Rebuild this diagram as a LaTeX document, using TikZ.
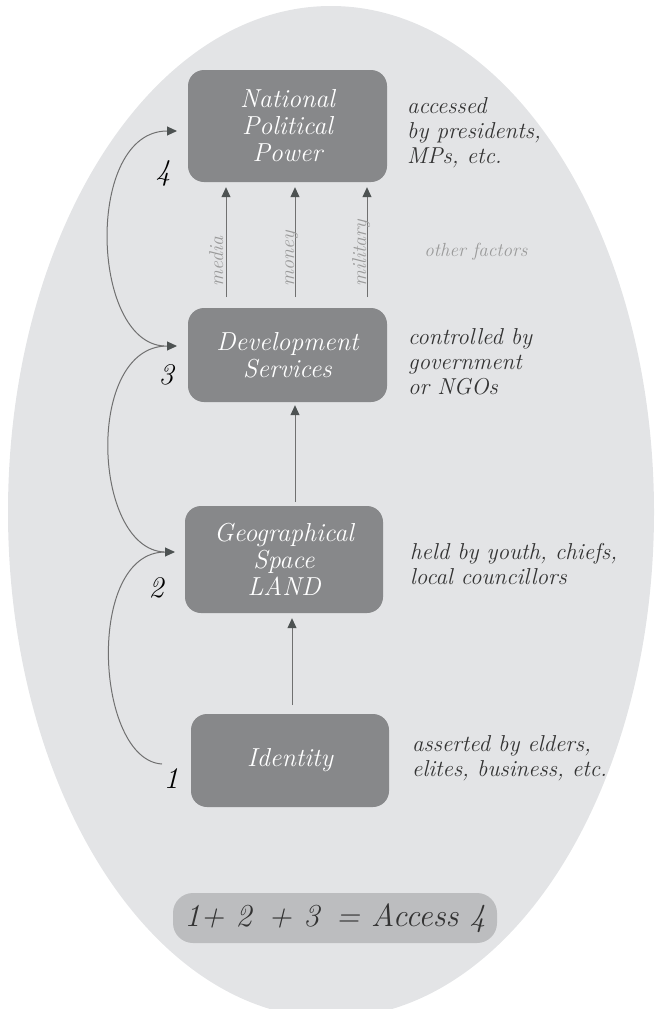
\documentclass[tikz,border=0pt]{standalone}
\usepackage{fontspec}
\usetikzlibrary{arrows.meta}
\definecolor{ellfill}{HTML}{E3E4E6}
\definecolor{boxfill}{HTML}{87888A}
\definecolor{sumfill}{HTML}{BCBDBF}
\definecolor{darktext}{HTML}{333333}
\definecolor{graytext}{HTML}{9A9A9A}
\definecolor{linec}{HTML}{707070}
\definecolor{tipc}{HTML}{4D5252}
\begin{document}
\begin{tikzpicture}[x=1pt,y=-1pt,
  stage/.style={draw=none, fill=boxfill, rounded corners=16pt, text=white,
    font=\fontsize{26}{27}\selectfont\itshape, align=center, inner sep=0pt},
  note/.style={text=darktext, font=\fontsize{23}{25}\selectfont\itshape,
    align=left, anchor=west, inner sep=0pt},
  num/.style={text=black, font=\fontsize{30}{30}\selectfont\itshape, inner sep=0pt},
  flow/.style={draw=linec, line width=1pt,
    -{Triangle[length=10pt,width=9pt,color=tipc,fill=tipc]}},
  factor/.style={text=graytext, font=\fontsize{20}{20}\selectfont\itshape,
    rotate=90, anchor=base west, inner sep=0pt},
]
\useasboundingbox (0,0) rectangle (656,1009);
\clip (0,0) rectangle (656,1009);
\fill[ellfill] (331,512) ellipse [x radius=323pt, y radius=506pt];

% stages
\node[stage, minimum width=199pt, minimum height=112pt] (p4) at (287.5,126) {National\\Political\\Power};
\node[stage, minimum width=199pt, minimum height=94pt] (p3) at (287.5,355) {Development\\Services};
\node[stage, minimum width=198pt, minimum height=107pt] (p2) at (284,559.5) {Geographical\\Space\\LAND};
\node[stage, minimum width=198pt, minimum height=93pt] (p1) at (290,760.5) {Identity};

% notes
\node[note] (n4) at (407,133) {accessed\\by presidents,\\MPs, etc.};
\node[note] (n3) at (408,362) {controlled by\\government\\or NGOs};
\node[note] (n2) at (410,564.5) {held by youth, chiefs,\\local councillors};
\node[note] (n1) at (412,758.5) {asserted by elders,\\elites, business, etc.};

% numbers
\node[num] (d4) at (163,173) {4};
\node[num] (d3) at (166,375) {3};
\node[num] (d2) at (156,588) {2};
\node[num] (d1) at (171,779) {1};

% sum box
\node[fill=sumfill, rounded corners=20pt, minimum width=324pt, minimum height=50pt,
  text=darktext, font=\fontsize{32}{32}\selectfont\itshape, inner sep=0pt] (sum) at (335,918)
  {1+ 2 \,+ 3 \,= Access 4};

% other factors
\node[text=graytext, font=\fontsize{19}{19}\selectfont\itshape, inner sep=0pt] (other) at (476,252) {other factors};

% vertical arrows
\coordinate (a1) at (226,297);
\coordinate (a2) at (295,297);
\coordinate (a3) at (367,297);
\draw[flow, shorten >=5pt] (a1) -- (a1 |- p4.south);
\draw[flow, shorten >=5pt] (a2) -- (a2 |- p4.south);
\draw[flow, shorten >=5pt] (a3) -- (a3 |- p4.south);
\node[factor] (fm) at (223,287) {media};
\node[factor] (fo) at (294,287) {money};
\node[factor] (fi) at (366,287) {military};

\coordinate (b2) at (295,502);
\draw[flow, shorten >=3pt] (b2) -- (b2 |- p3.south);
\coordinate (b1) at (292,705);
\draw[flow, shorten >=5pt] (b1) -- (b1 |- p2.south);

% curved arrows
\coordinate (s1) at (162,764);
\coordinate (t2) at (175,552);
\coordinate (s2) at (164,552);
\coordinate (t3) at (177,346);
\coordinate (s3) at (164,346);
\coordinate (t4) at (177,131);
\draw[flow] (s1) .. controls (95,760) and (85,552) .. (t2);
\draw[flow] (s2) .. controls (92,548) and (85,346) .. (t3);
\draw[flow] (s3) .. controls (90,342) and (85,131) .. (t4);
\end{tikzpicture}
\end{document}
